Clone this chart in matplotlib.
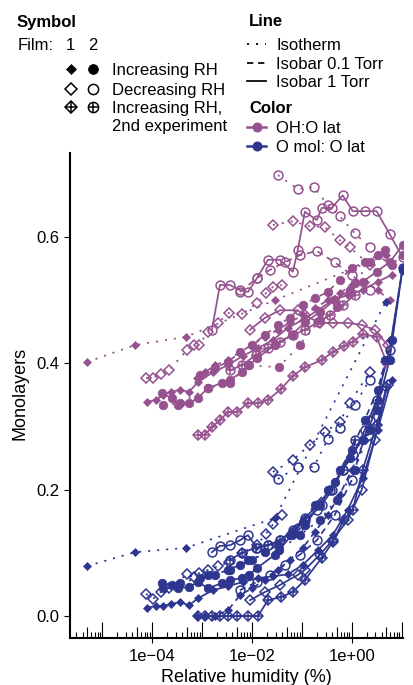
import numpy as np
import matplotlib
matplotlib.use('Agg')
import matplotlib.pyplot as plt

plt.rcParams['font.family'] = ['Liberation Sans', 'DejaVu Sans']

PURPLE = '#95528F'
BLUE = '#2E3690'

# ---------------- data (RH in %, monolayers) ----------------
# Isotherm, film 1, increasing RH
e1_rh = [4.9e-6, 4.5e-5, 4.74e-4, 2.88e-2, 4.79]
e1_oh = [0.402, 0.429, 0.442, 0.500, 0.571]
e1_mol = [0.079, 0.101, 0.108, 0.155, 0.497]

# Isotherm, film 1, decreasing RH (low part)
e2_rh = [7.5e-5, 1.03e-4, 1.5e-4, 2.16e-4, 4.97e-4, 6.85e-4, 8.65e-4, 1.31e-3, 2.08e-3,
         3.45e-3, 6.3e-3, 1.26e-2, 1.9e-2, 2.63e-2, 4.0e-2]
e2_oh = [0.377, 0.377, 0.383, 0.389, 0.421, 0.429, 0.429, 0.450, 0.464, 0.480, 0.478,
         0.495, 0.511, 0.521, 0.524]
e2_mol = [0.035, 0.027, 0.038, 0.044, 0.066, 0.062, 0.068, 0.073, 0.079, 0.085, 0.100,
          0.112, 0.130, 0.145, 0.160]

# Isotherm, film 1, decreasing RH (high part)
e3_rh = [2.63e-2, 6.6e-2, 0.145, 0.288, 0.575, 0.91, 2.29]
e3_oh = [0.619, 0.625, 0.617, 0.616, 0.595, 0.584, 0.556]
e3_mol = [0.228, 0.247, 0.271, 0.291, 0.307, 0.337, 0.386]

# Isotherm, film 2, decreasing RH
e4_rh = [3.31e-2, 8.3e-2, 0.174, 0.331, 0.575, 1.15, 2.29]
e4_oh = [0.698, 0.676, 0.679, 0.651, 0.633, 0.606, 0.584]
e4_mol = [0.217, 0.236, 0.236, 0.280, 0.298, 0.334, 0.374]

# Isotherm, film 2, increasing RH
e5_rh = [1.64e-4, 3.6e-4, 1.31e-3, 3.61e-3, 8.3e-3, 3.47e-2, 9.1e-2, 0.229, 0.5, 1.15, 2.29, 4.57]
e5_oh = [0.334, 0.337, 0.361, 0.369, 0.397, 0.394, 0.429, 0.469, 0.489, 0.527, 0.560, 0.579]
e5_mol = [0.044, 0.052, 0.065, 0.073, 0.089, 0.104, 0.128, 0.152, 0.184, 0.231, 0.294, 0.405]

# Isobar 1 Torr, film 1, increasing RH
e6_rh = [7.8e-5, 1.19e-4, 1.64e-4, 2.37e-4, 3.6e-4, 5.45e-4, 8.26e-4, 1.65e-3, 3.3e-3, 6.6e-3,
         1.32e-2, 2.63e-2, 5.25e-2, 0.105, 0.209, 0.417, 0.83, 1.66, 3.31, 6.3]
e6_oh = [0.339, 0.342, 0.350, 0.355, 0.358, 0.355, 0.370, 0.386, 0.397, 0.412, 0.424, 0.437,
         0.456, 0.469, 0.484, 0.500, 0.508, 0.516, 0.529, 0.540]
e6_mol = [0.013, 0.016, 0.016, 0.019, 0.022, 0.017, 0.028, 0.041, 0.047, 0.054, 0.060, 0.063,
          0.066, 0.081, 0.104, 0.128, 0.168, 0.218, 0.294, 0.374]

# Isobar 1 Torr, film 2, increasing RH
e7_rh = [1.57e-4, 2.48e-4, 3.28e-4, 5.45e-4, 8.26e-4, 1.31e-3, 2.5e-3, 3.61e-3, 6.3e-3, 8.7e-3,
         1.26e-2, 2.88e-2, 6.3e-2, 0.115, 0.229, 0.457, 0.91, 1.66, 3.16, 5.75, 10.5]
e7_oh = [0.353, 0.345, 0.334, 0.337, 0.345, 0.361, 0.369, 0.374, 0.386, 0.397, 0.408, 0.429,
         0.445, 0.465, 0.481, 0.500, 0.516, 0.529, 0.545, 0.560, 0.587]
e7_mol = [0.052, 0.049, 0.044, 0.046, 0.054, 0.044, 0.052, 0.057, 0.060, 0.065, 0.076, 0.097,
          0.128, 0.144, 0.176, 0.212, 0.250, 0.279, 0.326, 0.405, 0.551]

# Isobar 0.1 Torr, film 2, increasing RH
e8_rh = [9.06e-4, 1.81e-3, 3.3e-3, 5.74e-3, 1.0e-2, 1.82e-2, 3.31e-2, 5.75e-2, 0.105, 0.182,
         0.331, 0.575, 1.0, 1.82, 3.31, 6.3, 10.5]
e8_oh = [0.382, 0.393, 0.402, 0.418, 0.429, 0.445, 0.461, 0.472, 0.492, 0.503, 0.513, 0.532,
         0.551, 0.560, 0.571, 0.556, 0.571]
e8_mol = [0.060, 0.065, 0.073, 0.081, 0.089, 0.101, 0.112, 0.128, 0.149, 0.176, 0.199, 0.231,
          0.263, 0.310, 0.358, 0.437, 0.548]

# Isobar 1 Torr, film 2, decreasing RH
e9_rh = [1.57e-3, 2.28e-3, 3.61e-3, 5.74e-3, 8.3e-3, 1.26e-2, 2.09e-2, 3.63e-2, 6.6e-2, 8.3e-2,
         0.115, 0.2, 0.251, 0.398, 0.66, 1.05, 1.82, 3.16, 5.75, 10.5]
e9_oh = [0.453, 0.524, 0.524, 0.516, 0.513, 0.535, 0.564, 0.564, 0.545, 0.579, 0.640, 0.627,
         0.646, 0.646, 0.666, 0.641, 0.641, 0.641, 0.605, 0.568]
e9_mol = [0.101, 0.111, 0.112, 0.120, 0.128, 0.108, 0.112, 0.120, 0.133, 0.139, 0.152, 0.168,
          0.176, 0.199, 0.231, 0.255, 0.294, 0.342, 0.421, 0.551]

# Isobar 0.1 Torr, film 2, decreasing RH
e10_rh = [5.74e-3, 1.26e-2, 2.29e-2, 4.57e-2, 9.1e-2, 0.2, 0.457, 1.0, 2.29]
e10_oh = [0.513, 0.535, 0.548, 0.560, 0.571, 0.578, 0.560, 0.540, 0.516]
e10_mol = [0.041, 0.054, 0.065, 0.081, 0.097, 0.120, 0.160, 0.215, 0.310]

# Isobar 1 Torr, film 1, decreasing RH
e11_rh = [9.1e-3, 1.82e-2, 3.63e-2, 8.3e-2, 0.115, 0.229, 0.417, 0.83, 1.58, 2.88, 5.25]
e11_oh = [0.453, 0.472, 0.484, 0.484, 0.476, 0.464, 0.464, 0.464, 0.461, 0.453, 0.429]
e11_mol = [0.025, 0.038, 0.049, 0.065, 0.073, 0.097, 0.120, 0.152, 0.199, 0.279, 0.366]

# Isobar 1 Torr, film 1, increasing RH, 2nd experiment
e12_rh = [8.26e-4, 1.14e-3, 1.57e-3, 2.28e-3, 3.3e-3, 5.0e-3, 8.3e-3, 1.32e-2, 2.09e-2, 3.8e-2,
          6.6e-2, 0.115, 0.251, 0.417, 0.69, 1.05, 1.66, 3.16, 5.0]
e12_oh = [0.287, 0.287, 0.299, 0.310, 0.323, 0.323, 0.337, 0.337, 0.342, 0.359, 0.380, 0.394,
          0.405, 0.418, 0.427, 0.434, 0.446, 0.442, 0.402]
e12_mol = [0.0, 0.0, 0.0, 0.0, 0.0, 0.0, 0.0, 0.0, 0.025, 0.030, 0.038, 0.057, 0.092, 0.117,
           0.152, 0.168, 0.231, 0.302, 0.363]

# Isobar 0.1 Torr, film 1, increasing RH
e13_rh = [7.9e-4, 1.14e-3, 1.81e-3, 3.3e-3, 5.74e-3, 1.0e-2, 1.82e-2, 3.31e-2, 5.75e-2, 0.105,
          0.182, 0.331, 0.575, 1.0, 1.82, 3.31, 5.75]
e13_oh = [0.377, 0.386, 0.397, 0.405, 0.418, 0.429, 0.442, 0.453, 0.465, 0.476, 0.487, 0.500,
          0.511, 0.524, 0.529, 0.516, 0.500]
e13_mol = [0.0, 0.0, 0.0, 0.009, 0.033, 0.044, 0.057, 0.073, 0.089, 0.108, 0.133, 0.160, 0.192,
           0.231, 0.279, 0.342, 0.437]

# Isobar 1 Torr, film 2, increasing RH, 2nd experiment
e14_rh = [3.61e-3, 6.3e-3, 1.2e-2, 2.09e-2, 3.63e-2, 6.6e-2, 0.115, 0.209, 0.363, 0.66, 1.15]
e14_oh = [0.389, 0.397, 0.413, 0.424, 0.434, 0.445, 0.453, 0.465, 0.476, 0.492, 0.508]
e14_mol = [0.089, 0.100, 0.108, 0.112, 0.120, 0.136, 0.155, 0.176, 0.199, 0.231, 0.279]

# (rh, OH:O lat, O mol:O lat, line type, symbol)
experiments = [
    (e1_rh, e1_oh, e1_mol, 'iso', 'inc1'),
    (e2_rh, e2_oh, e2_mol, 'iso', 'dec1'),
    (e3_rh, e3_oh, e3_mol, 'iso', 'dec1'),
    (e4_rh, e4_oh, e4_mol, 'iso', 'dec2'),
    (e5_rh, e5_oh, e5_mol, 'iso', 'inc2'),
    (e6_rh, e6_oh, e6_mol, 'b1', 'inc1'),
    (e7_rh, e7_oh, e7_mol, 'b1', 'inc2'),
    (e8_rh, e8_oh, e8_mol, 'b01', 'inc2'),
    (e9_rh, e9_oh, e9_mol, 'b1', 'dec2'),
    (e10_rh, e10_oh, e10_mol, 'b01', 'dec2'),
    (e11_rh, e11_oh, e11_mol, 'b1', 'dec1'),
    (e12_rh, e12_oh, e12_mol, 'b1', 'rep1'),
    (e13_rh, e13_oh, e13_mol, 'b01', 'inc1'),
    (e14_rh, e14_oh, e14_mol, 'b1', 'rep2'),
]

LW = 1.25
LS = {'iso': (0, (1.2, 4.0)), 'b01': (0, (3.6, 2.8)), 'b1': '-'}


def draw_markers(ax, x, y, color, mk, scale=1.0, **kw):
    if mk == 'inc1':
        ax.plot(x, y, 'D', ms=4.5 * scale, color=color, mec=color, mew=0.5, ls='none', **kw)
    elif mk == 'inc2':
        ax.plot(x, y, 'o', ms=6.2 * scale, color=color, mec=color, mew=0.5, ls='none', **kw)
    elif mk == 'dec1':
        ax.plot(x, y, 'D', ms=5.0 * scale, mfc='none', mec=color, mew=1.1, ls='none', **kw)
    elif mk == 'dec2':
        ax.plot(x, y, 'o', ms=6.4 * scale, mfc='none', mec=color, mew=1.1, ls='none', **kw)
    elif mk == 'rep1':
        ax.plot(x, y, 'D', ms=5.0 * scale, mfc='none', mec=color, mew=1.1, ls='none', **kw)
        ax.plot(x, y, '+', ms=7.0 * scale, mec=color, mew=1.1, ls='none', **kw)
    elif mk == 'rep2':
        ax.plot(x, y, 'o', ms=6.4 * scale, mfc='none', mec=color, mew=1.1, ls='none', **kw)
        ax.plot(x, y, '+', ms=6.4 * scale, mec=color, mew=1.1, ls='none', **kw)


W, H = 413, 685
fig = plt.figure(figsize=(W / 100, H / 100), dpi=100)
L, R, T, B = 70, 403, 153, 638
ax = fig.add_axes([L / W, 1 - B / H, (R - L) / W, (B - T) / H])

for color, idx in ((PURPLE, 1), (BLUE, 2)):
    for exp in experiments:
        x = exp[0]
        y = exp[idx]
        ax.plot(x, y, color=color, lw=LW, ls=LS[exp[3]], zorder=2)
        draw_markers(ax, x, y, color, exp[4], zorder=3)

ax.set_xscale('log')
ax.set_xlim(10 ** -5.65, 10 ** 1.03)
ax.set_ylim(-0.0348, 0.733)

for s in ('top', 'right'):
    ax.spines[s].set_visible(False)
for s in ('left', 'bottom'):
    ax.spines[s].set_linewidth(1.5)

ax.set_xticks([1e-4, 1e-2, 1e0])
ax.set_xticklabels(['1e\u221204', '1e\u221202', '1e+00'])
ax.xaxis.set_minor_locator(matplotlib.ticker.NullLocator())
ax.set_yticks([0.0, 0.2, 0.4, 0.6])
ax.set_yticklabels(['0.0', '0.2', '0.4', '0.6'])
ax.tick_params(axis='x', length=3.6, width=0.8, labelsize=12, pad=4, colors='black')
ax.tick_params(axis='y', length=4.3, width=0.8, labelsize=12, pad=3, colors='black')

# log ticks drawn inside the panel from the bottom
trans = ax.get_xaxis_transform()
hpx = B - T
for dec in range(-6, 2):
    for m in range(1, 10):
        v = m * 10.0 ** dec
        if v < 10 ** -5.65 or v > 10 ** 1.03:
            continue
        ln = 16 if m == 1 else (11 if m == 5 else 6)
        ax.plot([v, v], [0, ln / hpx], transform=trans, color='black', lw=0.8,
                clip_on=False, zorder=4, solid_capstyle='butt')

fig.text(246 / W, 1 - 677 / H, 'Relative humidity (%)', ha='center', va='center', fontsize=13)
fig.text(20 / W, 1 - 393 / H, 'Monolayers', ha='center', va='center', rotation=90, fontsize=13)

# ---------------- legend ----------------
lax = fig.add_axes([0, 0, 1, 1])
lax.set_xlim(0, W)
lax.set_ylim(H, 0)
lax.axis('off')
lax.patch.set_visible(False)

FS = 12
lax.text(17, 27, 'Symbol', fontsize=FS, fontweight='bold', va='baseline')
lax.text(18, 50, 'Film:', fontsize=FS, va='baseline')
lax.text(70, 50, '1', fontsize=FS, va='baseline', ha='center')
lax.text(93, 50, '2', fontsize=FS, va='baseline', ha='center')
rows = [(69, 'inc1', 'inc2', 'Increasing RH'),
        (89, 'dec1', 'dec2', 'Decreasing RH'),
        (107, 'rep1', 'rep2', 'Increasing RH,')]
for yy, m1, m2, txt in rows:
    draw_markers(lax, [71], [yy], 'black', m1, scale=1.2)
    draw_markers(lax, [93], [yy], 'black', m2, scale=1.15)
    lax.text(112, yy + 6, txt, fontsize=FS, va='baseline')
lax.text(112, 131, '2nd experiment', fontsize=FS, va='baseline')

lax.text(249, 26, 'Line', fontsize=FS, fontweight='bold', va='baseline')
line_rows = [(44, 'iso', 'Isotherm'), (63, 'b01', 'Isobar 0.1 Torr'), (81, 'b1', 'Isobar 1 Torr')]
for yy, key, txt in line_rows:
    lax.plot([247, 266], [yy, yy], color='black', lw=LW, ls=LS[key])
    lax.text(276, yy + 6, txt, fontsize=FS, va='baseline')
lax.text(249, 113, 'Color', fontsize=FS, fontweight='bold', va='baseline')
for yy, col, txt in ((127, PURPLE, 'OH:O lat'), (146, BLUE, 'O mol: O lat')):
    lax.plot([247, 266], [yy, yy], color=col, lw=1.8)
    lax.plot([256.5], [yy], 'o', ms=6.2, color=col)
    lax.text(276, yy + 6, txt, fontsize=FS, va='baseline')

fig.savefig('out.png', dpi=100)
